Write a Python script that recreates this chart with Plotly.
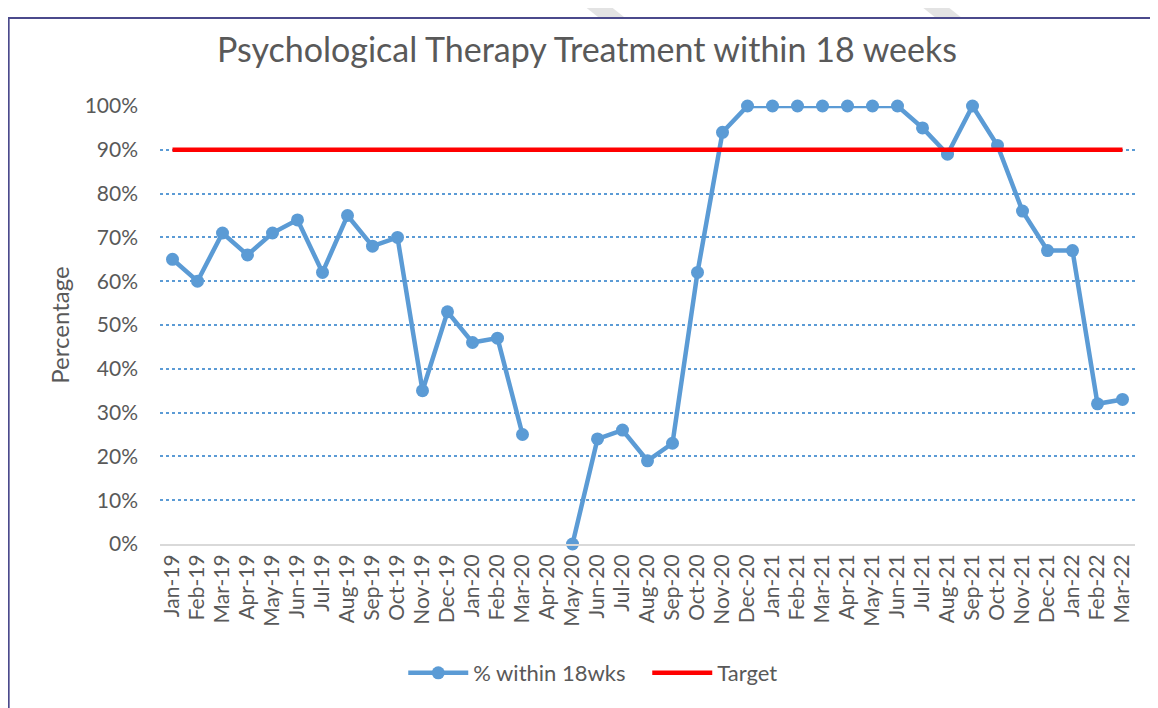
import plotly.graph_objects as go

months = ["Jan-19","Feb-19","Mar-19","Apr-19","May-19","Jun-19","Jul-19","Aug-19","Sep-19","Oct-19",
          "Nov-19","Dec-19","Jan-20","Feb-20","Mar-20","Apr-20","May-20","Jun-20","Jul-20","Aug-20",
          "Sep-20","Oct-20","Nov-20","Dec-20","Jan-21","Feb-21","Mar-21","Apr-21","May-21","Jun-21",
          "Jul-21","Aug-21","Sep-21","Oct-21","Nov-21","Dec-21","Jan-22","Feb-22","Mar-22"]
within_18wks = [0.65,0.60,0.71,0.66,0.71,0.74,0.62,0.75,0.68,0.70,
                0.35,0.53,0.46,0.47,0.25,None,0.00,0.24,0.26,0.19,
                0.23,0.62,0.94,1.00,1.00,1.00,1.00,1.00,1.00,1.00,
                0.95,0.89,1.00,0.91,0.76,0.67,0.67,0.32,0.33]
target = [0.90] * len(months)
y_ticks = [i / 10 for i in range(11)]

grey = "#595959"
blue = "#5B9BD5"
font_family = "Lato"

# page body adds an 8px offset; compensate
OFF = 8
SCR_L, SCR_T = 159.5, 106          # on-screen plot-area left / top
plot_w, plot_h = 976, 438
W, H = 1158, 708
plot_l, plot_t = SCR_L - OFF, SCR_T - OFF


def px(x):
    return (x - SCR_L) / plot_w


def py(y):
    return (SCR_T + plot_h - y) / plot_h


fig = go.Figure()
fig.add_trace(go.Scatter(
    x=months, y=within_18wks, name="% within 18wks", mode="lines+markers",
    line=dict(color=blue, width=4.5), marker=dict(color=blue, size=13),
    connectgaps=False, cliponaxis=False,
))
fig.add_trace(go.Scatter(
    x=months, y=target, name="Target", mode="lines",
    line=dict(color="#FF0000", width=4.5), cliponaxis=False,
))

fig.update_layout(
    width=W, height=H,
    margin=dict(l=plot_l, r=W - plot_l - plot_w, t=plot_t, b=H - plot_t - plot_h),
    paper_bgcolor="white", plot_bgcolor="white",
    font=dict(family=font_family, color=grey),
    title=dict(text="Psychological Therapy Treatment within 18 weeks",
               x=px(587), xref="paper", xanchor="center",
               y=(H - (50 - OFF)) / H, yanchor="middle",
               font=dict(size=34, color=grey, family=font_family)),
    showlegend=True,
    legend=dict(orientation="h", x=px(403), xanchor="left", y=py(673), yanchor="middle",
                yref="paper", font=dict(size=22, color=grey), itemwidth=60,
                entrywidth=169, entrywidthmode="pixels", bgcolor="rgba(0,0,0,0)"),
    xaxis=dict(type="category", range=[-0.5, len(months) - 0.5], tickangle=-90,
               tickfont=dict(size=21, color=grey), showgrid=False,
               showline=True, linecolor="#D9D9D9", linewidth=2, ticks="", ticklen=0),
    yaxis=dict(range=[0, 1], tickvals=y_ticks, tickformat=".0%", tickfont=dict(size=21, color=grey),
               showgrid=True, gridcolor=blue, griddash="dot", gridwidth=1.5, zeroline=False,
               showline=False, ticks="", ticklabelstandoff=21,
               title=dict(text="Percentage", font=dict(size=24, color=grey), standoff=8)),
)

# faint watermark strips at the top
for x0 in (574, 911):
    fig.add_shape(type="path", xref="paper", yref="paper",
                  path=f"M{px(x0)},{py(-2)} L{px(x0 + 26)},{py(-2)} L{px(x0 + 50)},{py(17)} L{px(x0 + 24)},{py(17)} Z",
                  fillcolor="#E3E3E3", line=dict(width=0), layer="below")

# chart frame
fig.add_shape(type="rect", xref="paper", yref="paper",
              x0=px(8), x1=1.1, y0=-0.5, y1=py(18),
              line=dict(color="#4B4A8C", width=2), layer="below")

fig.write_html("out.html")
